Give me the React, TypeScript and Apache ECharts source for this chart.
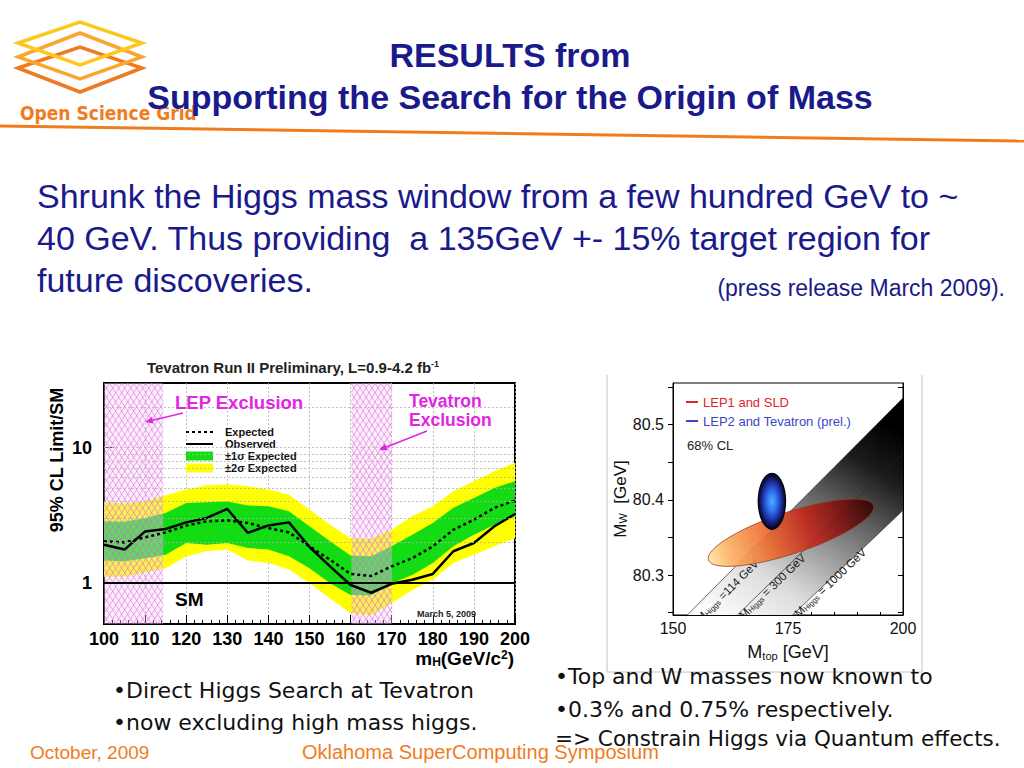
import React, { useEffect, useRef } from "react";
import * as echarts from "echarts";

const FONT = "'Liberation Sans', Arial, Helvetica, sans-serif";
const GOTHIC = "'DejaVu Sans', sans-serif";
const NAVY = "#1a1a8a";
const ORANGE = "#f07c1e";
const MAGENTA = "#e325e3";

// ---------- Tevatron limit plot ----------
const massPoints = [100, 105, 110, 115, 120, 125, 130, 135, 140, 145, 150, 155, 160, 165, 170, 175, 180, 185, 190, 195, 200];
const expectedLimit = [2.04, 2.0, 2.18, 2.37, 2.66, 2.86, 2.91, 2.78, 2.55, 2.37, 1.87, 1.49, 1.17, 1.13, 1.33, 1.53, 1.87, 2.48, 2.94, 3.6, 4.07];
const observedLimit = [1.92, 1.77, 2.41, 2.51, 2.81, 3.03, 3.53, 2.35, 2.67, 2.81, 1.85, 1.33, 0.97, 0.85, 0.99, 1.06, 1.17, 1.72, 1.98, 2.63, 3.24];
const oneSigmaLow = [1.47, 1.45, 1.53, 1.62, 1.98, 1.92, 1.98, 1.82, 1.77, 1.58, 1.29, 1.0, 0.82, 0.81, 1.0, 1.15, 1.41, 1.87, 2.28, 2.7, 3.12];
const oneSigmaHigh = [2.86, 2.84, 3.03, 3.3, 3.9, 3.96, 4.0, 3.74, 3.7, 3.4, 2.63, 2.04, 1.6, 1.58, 1.87, 2.28, 2.78, 3.6, 4.26, 5.05, 5.66];
const twoSigmaLow = [1.11, 1.12, 1.2, 1.29, 1.58, 1.72, 1.77, 1.47, 1.41, 1.26, 1.0, 0.77, 0.6, 0.58, 0.71, 0.89, 1.06, 1.41, 1.62, 1.87, 2.15];
const twoSigmaHigh = [3.96, 3.87, 4.03, 4.46, 4.91, 5.27, 5.35, 5.2, 4.91, 4.5, 3.5, 2.7, 2.15, 2.12, 2.48, 3.12, 3.7, 4.77, 5.66, 6.7, 7.75];
const limitGridValues = [2, 3, 4, 5, 6, 7, 8, 9, 10, 20];
const limitTickLabels = [1, 10];
const smLevel = 1;
const exclusionRanges = [[100, 114.4], [160.2, 170.1]];
const legendNames = ["Expected", "Observed", "\u00b11\u03c3 Expected", "\u00b12\u03c3 Expected"];

// ---------- M_W vs M_top plot ----------
const mtopRange = [150, 200];
const mwRange = [80.247, 80.555];
const mwLabelValues = [80.3, 80.4, 80.5];
const mwTickValues = [80.25, 80.3, 80.35, 80.4, 80.45, 80.5, 80.55];
const higgs114Line = [[153.1, 80.247], [200, 80.535]];
const higgs300Line = [[164.0, 80.247], [200, 80.461]];
const higgs1000Line = [[176.0, 80.247], [200, 80.386]];
const higgsLabelText = [" =114 GeV", " = 300 GeV", " = 1000 GeV"];
const higgsLabelPos = [[161.8, 80.279], [171.6, 80.285], [184.2, 80.29]];
const lep1Tips = [[157.7, 80.32], [193.6, 80.3925]];
const lep1HalfWidth = 0.0276;
const lep2Center = [171.5, 80.398];
const lep2Half = [3.1, 0.038];
const rightLegend = [
  { name: "LEP1 and SLD", color: "#e0242a" },
  { name: "LEP2 and Tevatron (prel.)", color: "#3a46c8" },
];

function arrow(x1: number, y1: number, x2: number, y2: number, color: string) {
  const ang = Math.atan2(y2 - y1, x2 - x1);
  const L = 8, W = 3.5;
  const bx = x2 - L * Math.cos(ang), by = y2 - L * Math.sin(ang);
  const px = -Math.sin(ang) * W, py = Math.cos(ang) * W;
  return [
    { type: "line", z: 10, shape: { x1, y1, x2: bx, y2: by }, style: { stroke: color, lineWidth: 1.5 } },
    { type: "polygon", z: 10, shape: { points: [[x2, y2], [bx + px, by + py], [bx - px, by - py]] }, style: { fill: color } },
  ];
}

function txt(x: number, y: number, text: string, size: number, color: string, opts: any = {}) {
  return {
    type: "text",
    x,
    y,
    z: 10,
    rotation: opts.rotation || 0,
    style: {
      text,
      fontSize: size,
      fontFamily: opts.family || FONT,
      fontWeight: opts.weight || "normal",
      fill: color,
      align: opts.align || "left",
      verticalAlign: "middle",
      lineHeight: opts.lineHeight,
      rich: opts.rich,
    },
  };
}

function bandSeries(name: string, lo: number[], hi: number[], color: string, z: number) {
  return {
    type: "custom",
    name,
    xAxisIndex: 0,
    yAxisIndex: 0,
    z,
    clip: true,
    silent: true,
    itemStyle: { color },
    data: [[massPoints[0], lo[0]]],
    renderItem: (_p: any, api: any) => {
      const pts: number[][] = [];
      massPoints.forEach((m, i) => pts.push(api.coord([m, lo[i]])));
      for (let i = massPoints.length - 1; i >= 0; i--) pts.push(api.coord([massPoints[i], hi[i]]));
      return { type: "polygon", shape: { points: pts }, style: { fill: color } };
    },
  };
}

function hatchRender(params: any, api: any) {
  const cs = params.coordSys;
  const x0 = api.coord([api.value(0), smLevel])[0];
  const x1 = api.coord([api.value(1), smLevel])[0];
  const y0 = cs.y, H = cs.height;
  const step = 6, r = 0.65;
  const children: any[] = [
    { type: "rect", shape: { x: x0, y: y0, width: x1 - x0, height: H }, style: { fill: "rgba(246,205,246,0.35)" } },
  ];
  const ls = { stroke: "rgba(212,95,212,0.75)", lineWidth: 0.7 };
  for (let c = x0 - H * r; c <= x1; c += step) {
    const tA = Math.max(0, (x0 - c) / r), tB = Math.min(H, (x1 - c) / r);
    if (tA < tB) children.push({ type: "line", shape: { x1: c + tA * r, y1: y0 + tA, x2: c + tB * r, y2: y0 + tB }, style: ls });
  }
  for (let c = x0; c <= x1 + H * r; c += step) {
    const tA = Math.max(0, (c - x1) / r), tB = Math.min(H, (c - x0) / r);
    if (tA < tB) children.push({ type: "line", shape: { x1: c - tA * r, y1: y0 + tA, x2: c - tB * r, y2: y0 + tB }, style: ls });
  }
  return { type: "group", children };
}

export default function App() {
  const ref = useRef<HTMLDivElement>(null);
  useEffect(() => {
    if (!ref.current) return;
    const chart = echarts.init(ref.current, null, { renderer: "svg" });

    const logo = [
      { pts: [[18, 68], [80, 47], [142, 68], [80, 92]], c: "#f07a20" },
      { pts: [[18, 57], [80, 33], [142, 57], [80, 79]], c: "#f8a830" },
      { pts: [[18, 43], [80, 22], [142, 43], [80, 65]], c: "#fcc820" },
    ].map((d) => ({ type: "polygon", shape: { points: d.pts }, style: { fill: "none", stroke: d.c, lineWidth: 3.5 } }));

    const graphics: any[] = [
      { type: "line", shape: { x1: 0, y1: 126, x2: 1024, y2: 141 }, style: { stroke: ORANGE, lineWidth: 3 } },
      ...logo,
      txt(20, 113, "Open Science Grid", 19, ORANGE, { weight: "bold", family: "'Liberation Sans Narrow', 'DejaVu Sans Condensed', Arial, sans-serif" }),
      txt(510, 76, "RESULTS from\nSupporting the Search for the Origin of Mass", 34, NAVY, { weight: "bold", align: "center", lineHeight: 42 }),
      txt(37, 238, "Shrunk the Higgs mass window from a few hundred GeV to ~\n40 GeV. Thus providing  a 135GeV +- 15% target region for\nfuture discoveries.", 34, NAVY, { lineHeight: 42 }),
      txt(1005, 288, "(press release March 2009).", 23, NAVY, { align: "right" }),
      // left plot decorations
      txt(293, 367, "{a|Tevatron Run II Preliminary, L=0.9-4.2 fb}{s|-1}", 15, "#222", {
        weight: "bold",
        align: "center",
        rich: {
          a: { fontSize: 15, fontWeight: "bold", fontFamily: FONT, fill: "#222" },
          s: { fontSize: 9, fontWeight: "bold", fontFamily: FONT, fill: "#222", verticalAlign: "top" },
        },
      }),
      txt(57, 460, "95% CL Limit/SM", 18, "#000", { weight: "bold", align: "center", rotation: Math.PI / 2 }),
      txt(175, 402, "LEP Exclusion", 18.5, MAGENTA, { weight: "bold" }),
      txt(409, 410.5, "Tevatron\nExclusion", 17.5, MAGENTA, { weight: "bold", lineHeight: 19 }),
      ...arrow(183, 413, 145, 422, MAGENTA),
      ...arrow(427, 431, 379, 450, MAGENTA),
      txt(175, 599, "SM", 19, "#000", { weight: "bold" }),
      txt(417, 614, "March 5, 2009", 9, "#222", { weight: "bold" }),
      txt(514, 658, "{a|m}{b|H}{a|(GeV/c}{c|2}{a|)}", 19, "#000", {
        weight: "bold",
        align: "right",
        rich: {
          a: { fontSize: 19, fontWeight: "bold", fontFamily: FONT, fill: "#000" },
          b: { fontSize: 12, fontWeight: "bold", fontFamily: FONT, fill: "#000", verticalAlign: "bottom" },
          c: { fontSize: 12, fontWeight: "bold", fontFamily: FONT, fill: "#000", verticalAlign: "top" },
        },
      }),
      // right plot decorations
      { type: "line", shape: { x1: 607, y1: 375, x2: 607, y2: 672 }, style: { stroke: "#c4c4c4", lineWidth: 1 } },
      { type: "line", shape: { x1: 922, y1: 375, x2: 922, y2: 672 }, style: { stroke: "#c4c4c4", lineWidth: 1 } },
      { type: "line", shape: { x1: 607, y1: 672, x2: 922, y2: 672 }, style: { stroke: "#c4c4c4", lineWidth: 1 } },
      txt(687, 445, "68% CL", 13, "#222"),
      // bullets
      txt(113, 690, "\u2022Direct Higgs Search at Tevatron", 22, "#111", { family: GOTHIC }),
      txt(113, 722, "\u2022now excluding high mass higgs.", 22, "#111", { family: GOTHIC }),
      txt(555, 676, "\u2022Top and W masses now known to", 22, "#111", { family: GOTHIC }),
      txt(555, 709, "\u20220.3% and 0.75% respectively.", 22, "#111", { family: GOTHIC }),
      txt(555, 738, "=> Constrain Higgs via Quantum effects.", 21.5, "#111", { family: GOTHIC }),
      txt(30, 752, "October, 2009", 19, ORANGE),
      txt(302, 752, "Oklahoma SuperComputing Symposium", 20, ORANGE),
    ];

    const isTick = (v: number) => limitTickLabels.some((t) => Math.abs(v - t) < 1e-6);
    const hiddenSymbol = { color: "rgba(0,0,0,0)", borderColor: "rgba(0,0,0,0)", borderWidth: 0 };

    const option: any = {
      animation: false,
      textStyle: { fontFamily: FONT },
      grid: [
        { left: 104, top: 383, width: 411, height: 241, show: true, borderColor: "#000", borderWidth: 2, backgroundColor: "#fff" },
        { left: 673, top: 383, width: 230, height: 232, show: true, borderColor: "#000", borderWidth: 1, backgroundColor: "#fff" },
      ],
      legend: [
        {
          orient: "vertical",
          left: 180,
          top: 421,
          itemWidth: 27,
          itemHeight: 9,
          itemGap: 0,
          selectedMode: false,
          data: [
            { name: legendNames[0], itemStyle: hiddenSymbol },
            { name: legendNames[1], itemStyle: hiddenSymbol },
            { name: legendNames[2], icon: "rect" },
            { name: legendNames[3], icon: "rect" },
          ],
          textStyle: { fontSize: 11, lineHeight: 12, fontWeight: "bold", color: "#111", fontFamily: FONT, padding: [0, 0, 0, 7] },
        },
        {
          orient: "vertical",
          left: 681,
          top: 389,
          itemWidth: 12,
          itemHeight: 2,
          itemGap: 3,
          selectedMode: false,
          data: rightLegend.map((d) => ({ name: d.name, icon: "rect", textStyle: { color: d.color } })),
          textStyle: { fontSize: 13, lineHeight: 16, fontFamily: FONT },
        },
      ],
      xAxis: [
        {
          type: "value",
          gridIndex: 0,
          min: 100,
          max: 200,
          interval: 10,
          axisLine: { show: true, lineStyle: { color: "#000", width: 2 } },
          axisTick: { inside: true, length: 9, lineStyle: { color: "#000" } },
          minorTick: { show: true, splitNumber: 5, length: 4, lineStyle: { color: "#000" } },
          axisLabel: { fontSize: 18, fontWeight: "bold", color: "#000", margin: 6 },
          splitLine: { show: true, lineStyle: { color: "#b0b0b0", type: [2, 2], width: 0.8 } },
        },
        {
          type: "value",
          gridIndex: 1,
          min: mtopRange[0],
          max: mtopRange[1],
          interval: 25,
          axisLine: { show: true, lineStyle: { color: "#000", width: 1 } },
          axisTick: { inside: true, length: 5, lineStyle: { color: "#000" } },
          minorTick: { show: true, splitNumber: 5, length: 3, lineStyle: { color: "#000" } },
          axisLabel: { fontSize: 16, color: "#111", margin: 5 },
          splitLine: { show: false },
          name: "{m|M}{s|top}{m| [GeV]}",
          nameLocation: "middle",
          nameGap: 28,
          nameTextStyle: {
            rich: {
              m: { fontSize: 18, color: "#111", fontFamily: FONT },
              s: { fontSize: 11, color: "#111", fontFamily: FONT, verticalAlign: "bottom" },
            },
          },
        },
      ],
      yAxis: [
        {
          type: "log",
          logBase: 10,
          gridIndex: 0,
          min: 0.5,
          max: 30,
          axisLine: { show: true, lineStyle: { color: "#000", width: 2 } },
          axisTick: { inside: true, length: 10, lineStyle: { color: "#000" } },
          axisLabel: {
            fontSize: 18,
            fontWeight: "bold",
            color: "#000",
            margin: 12,
            showMinLabel: false,
            showMaxLabel: false,
            formatter: (v: number) => (isTick(v) ? String(Math.round(v)) : ""),
          },
          splitLine: { show: false },
        },
        {
          type: "value",
          gridIndex: 1,
          min: mwRange[0],
          max: mwRange[1],
          axisLine: { show: true, lineStyle: { color: "#000", width: 1 } },
          axisTick: { inside: false, length: 5, customValues: mwTickValues, lineStyle: { color: "#000" } },
          axisLabel: { fontSize: 16, color: "#111", margin: 9, customValues: mwLabelValues, formatter: (v: number) => v.toFixed(1) },
          splitLine: { show: false },
          name: "{m|M}{s|W}{m|  [GeV]}",
          nameLocation: "middle",
          nameGap: 44,
          nameTextStyle: {
            rich: {
              m: { fontSize: 17, color: "#111", fontFamily: FONT },
              s: { fontSize: 11, color: "#111", fontFamily: FONT, verticalAlign: "bottom" },
            },
          },
        },
        {
          type: "value",
          gridIndex: 1,
          position: "right",
          min: mwRange[0],
          max: mwRange[1],
          axisLine: { show: true, lineStyle: { color: "#000", width: 1 } },
          axisTick: { inside: true, length: 5, customValues: mwTickValues, lineStyle: { color: "#000" } },
          axisLabel: { show: false },
          splitLine: { show: false },
        },
      ],
      series: [
        {
          type: "line",
          name: "grid",
          xAxisIndex: 0,
          yAxisIndex: 0,
          data: [],
          z: 1,
          silent: true,
          markLine: {
            silent: true,
            symbol: ["none", "none"],
            label: { show: false },
            lineStyle: { color: "#b0b0b0", type: [2, 2], width: 0.8 },
            data: limitGridValues.map((v) => ({ yAxis: v })),
          },
        },
        bandSeries(legendNames[3], twoSigmaLow, twoSigmaHigh, "#ffff00", 2),
        bandSeries(legendNames[2], oneSigmaLow, oneSigmaHigh, "#14dc14", 2),
        {
          type: "custom",
          name: "hatch",
          xAxisIndex: 0,
          yAxisIndex: 0,
          z: 3,
          clip: true,
          silent: true,
          data: exclusionRanges.map((r) => [r[0], r[1]]),
          renderItem: hatchRender,
        },
        {
          type: "line",
          name: "SM",
          xAxisIndex: 0,
          yAxisIndex: 0,
          data: [],
          z: 4,
          silent: true,
          markLine: {
            silent: true,
            symbol: ["none", "none"],
            label: { show: false },
            lineStyle: { color: "#000", type: "solid", width: 2 },
            data: [{ yAxis: smLevel }],
          },
        },
        {
          type: "line",
          name: legendNames[0],
          xAxisIndex: 0,
          yAxisIndex: 0,
          z: 4,
          symbol: "none",
          lineStyle: { color: "#000", width: 2.5, type: [3, 3] },
          itemStyle: { color: "#000" },
          data: massPoints.map((m, i) => [m, expectedLimit[i]]),
        },
        {
          type: "line",
          name: legendNames[1],
          xAxisIndex: 0,
          yAxisIndex: 0,
          z: 4,
          symbol: "none",
          lineStyle: { color: "#000", width: 2.5 },
          itemStyle: { color: "#000" },
          data: massPoints.map((m, i) => [m, observedLimit[i]]),
        },
        // ---- right plot ----
        {
          type: "custom",
          name: "SM band",
          xAxisIndex: 1,
          yAxisIndex: 1,
          z: 2,
          clip: true,
          silent: true,
          data: [[higgs114Line[0][0], higgs114Line[0][1]]],
          renderItem: (_p: any, api: any) => {
            const a0 = api.coord(higgs114Line[0]), a1 = api.coord(higgs114Line[1]);
            const b0 = api.coord(higgs300Line[0]), b1 = api.coord(higgs300Line[1]);
            const c0 = api.coord(higgs1000Line[0]), c1 = api.coord(higgs1000Line[1]);
            const lines = [[a0, a1], [b0, b1], [c0, c1]];
            const children: any[] = [
              {
                type: "polygon",
                shape: { points: [a0, a1, c1, c0] },
                style: {
                  fill: new echarts.graphic.LinearGradient(0.1, 1, 0.75, 0, [
                    { offset: 0, color: "#ffffff" },
                    { offset: 0.25, color: "#dcdcdc" },
                    { offset: 0.55, color: "#7a7a7a" },
                    { offset: 0.82, color: "#1c1c1c" },
                    { offset: 1, color: "#000000" },
                  ]),
                },
              },
            ];
            lines.forEach(([p, q]) =>
              children.push({ type: "line", shape: { x1: p[0], y1: p[1], x2: q[0], y2: q[1] }, style: { stroke: "#2a2a2a", lineWidth: 0.7 } })
            );
            higgsLabelPos.forEach((pos, i) => {
              const [p, q] = lines[i];
              const rot = Math.atan2(-(q[1] - p[1]), q[0] - p[0]);
              const c = api.coord(pos);
              children.push({
                type: "text",
                x: c[0],
                y: c[1],
                rotation: rot,
                style: {
                  text: "{m|M}{s|Higgs}{m|" + higgsLabelText[i] + "}",
                  align: "center",
                  verticalAlign: "middle",
                  rich: {
                    m: { fontSize: 11.5, fill: "#1a1a1a", fontFamily: FONT },
                    s: { fontSize: 7.5, fill: "#1a1a1a", fontFamily: FONT, verticalAlign: "bottom" },
                  },
                },
              });
            });
            return { type: "group", children };
          },
        },
        {
          type: "custom",
          name: rightLegend[0].name,
          xAxisIndex: 1,
          yAxisIndex: 1,
          z: 3,
          clip: true,
          silent: true,
          itemStyle: { color: rightLegend[0].color },
          data: [[lep1Tips[0][0], lep1Tips[0][1]]],
          renderItem: (_p: any, api: any) => {
            const p1 = api.coord(lep1Tips[0]), p2 = api.coord(lep1Tips[1]);
            const cx = (p1[0] + p2[0]) / 2, cy = (p1[1] + p2[1]) / 2;
            const rx = Math.hypot(p2[0] - p1[0], p2[1] - p1[1]) / 2;
            const ry = api.size([0, lep1HalfWidth])[1];
            const rot = Math.atan2(-(p2[1] - p1[1]), p2[0] - p1[0]);
            return {
              type: "ellipse",
              x: cx,
              y: cy,
              rotation: rot,
              shape: { cx: 0, cy: 0, rx, ry },
              style: {
                fill: new echarts.graphic.LinearGradient(0, 0, 1, 0, [
                  { offset: 0, color: "#ffe6a0" },
                  { offset: 0.12, color: "#fbb060" },
                  { offset: 0.35, color: "#ee6a2a" },
                  { offset: 0.6, color: "#c42418" },
                  { offset: 0.85, color: "#6a0c0c" },
                  { offset: 1, color: "#2a0404" },
                ]),
                stroke: "#9a3a14",
                lineWidth: 0.8,
                opacity: 0.88,
              },
            };
          },
        },
        {
          type: "custom",
          name: rightLegend[1].name,
          xAxisIndex: 1,
          yAxisIndex: 1,
          z: 4,
          clip: true,
          silent: true,
          itemStyle: { color: rightLegend[1].color },
          data: [[lep2Center[0], lep2Center[1]]],
          renderItem: (_p: any, api: any) => {
            const c = api.coord(lep2Center);
            const sz = api.size(lep2Half);
            return {
              type: "ellipse",
              shape: { cx: c[0], cy: c[1], rx: sz[0], ry: sz[1] },
              style: {
                fill: new echarts.graphic.RadialGradient(0.5, 0.5, 0.5, [
                  { offset: 0, color: "#4aaeff" },
                  { offset: 0.35, color: "#2f72f0" },
                  { offset: 0.7, color: "#1a2a9a" },
                  { offset: 0.9, color: "#0a0c30" },
                  { offset: 1, color: "#000000" },
                ]),
              },
            };
          },
        },
      ],
      graphic: graphics,
    };
    chart.setOption(option);
    return () => chart.dispose();
  }, []);
  return <div ref={ref} style={{ position: "absolute", left: 0, top: 0, width: 1024, height: 768, background: "#fff" }} />;
}
